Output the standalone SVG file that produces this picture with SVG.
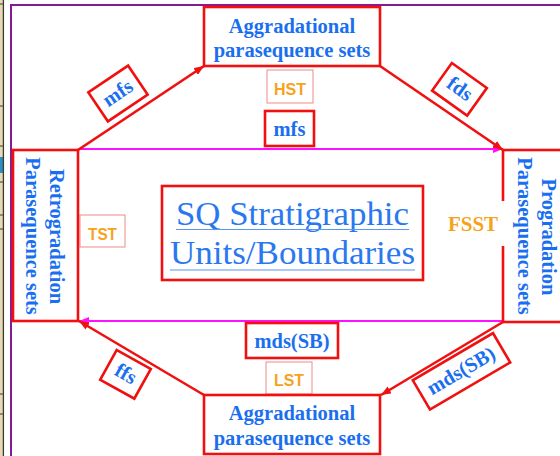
<svg xmlns="http://www.w3.org/2000/svg" width="560" height="456" viewBox="0 0 560 456">
  <defs>
    <marker id="headRed" viewBox="0 0 10 8" markerWidth="10" markerHeight="8" refX="10" refY="4" orient="auto" markerUnits="userSpaceOnUse">
      <path d="M0,0 L10,4 L0,8 z" fill="#f01010"/>
    </marker>
    <marker id="headPink" viewBox="0 0 10 8" markerWidth="10" markerHeight="8" refX="10" refY="4" orient="auto" markerUnits="userSpaceOnUse">
      <path d="M0,0 L10,4 L0,8 z" fill="#ff10ff"/>
    </marker>
    <style>
      .box { fill: #ffffff; stroke: #f01010; stroke-width: 2.6; }
      .thin { fill: #ffffff; stroke: #f08a8a; stroke-width: 1; }
      .b { font-family: "Liberation Serif", "Times New Roman", serif; font-weight: bold; font-size: 20.5px; fill: #1a6ff0; text-anchor: middle; }
      .o { font-family: "Liberation Sans", Arial, sans-serif; font-weight: bold; font-size: 17px; fill: #f7a21b; text-anchor: middle; }
      .ob { font-family: "Liberation Serif", "Times New Roman", serif; font-weight: bold; font-size: 21px; fill: #f7a21b; text-anchor: middle; }
      .big { font-family: "Liberation Serif", "Times New Roman", serif; font-size: 33px; fill: #2a78f0; text-anchor: middle; }
      .red { fill: none; stroke: #f01010; stroke-width: 2.6; }
      .pink { fill: none; stroke: #ff10ff; stroke-width: 2; }
    </style>
  </defs>

  <rect x="0" y="0" width="560" height="456" fill="#ffffff"/>

  <!-- window edge strip on the left -->
  <g id="edge-strip">
    <rect x="0" y="0" width="3" height="456" fill="#e6dab6"/>
    <rect x="0" y="157" width="3" height="16" fill="#2a8fc4"/>
    <line x1="3.4" y1="0" x2="3.4" y2="456" stroke="#3c3a30" stroke-width="1.3"/>
    <g stroke="#3c3a30" stroke-width="1">
      <line x1="0" y1="4" x2="3" y2="4"/>
      <line x1="0" y1="106" x2="3" y2="106"/>
      <line x1="0" y1="146" x2="3" y2="146"/>
      <line x1="0" y1="182" x2="3" y2="182"/>
      <line x1="0" y1="215" x2="3" y2="215"/>
      <line x1="0" y1="229" x2="3" y2="229"/>
      <line x1="0" y1="394" x2="3" y2="394"/>
      <line x1="0" y1="414" x2="3" y2="414"/>
    </g>
  </g>

  <!-- purple frame -->
  <path d="M11,456 L11,5 L560,5" fill="none" stroke="#861a96" stroke-width="2"/>

  <!-- connectors -->
  <g id="connectors">
    <line class="pink" x1="78" y1="149" x2="503" y2="149" marker-end="url(#headPink)"/>
    <line class="pink" x1="503" y1="321" x2="79" y2="321" marker-end="url(#headPink)"/>
    <line class="red" x1="78" y1="150" x2="204" y2="66" marker-end="url(#headRed)"/>
    <line class="red" x1="380" y1="66" x2="503" y2="150" marker-end="url(#headRed)"/>
    <line class="red" x1="503" y1="322" x2="381" y2="395" marker-end="url(#headRed)"/>
    <line class="red" x1="204" y1="395" x2="79" y2="321" marker-end="url(#headRed)"/>
  </g>

  <!-- connector labels -->
  <g id="label-mfs-diag" transform="translate(118,93.5) rotate(-34)">
    <rect class="box" x="-24" y="-17.5" width="48" height="35"/>
    <text class="b" x="0" y="6">mfs</text>
  </g>
  <g id="label-fds" transform="translate(459.5,89.3) rotate(35.5)">
    <rect class="box" x="-21.5" y="-17" width="43" height="34"/>
    <text class="b" x="0" y="6">fds</text>
  </g>
  <g id="label-ffs" transform="translate(125.5,374.3) rotate(29)">
    <rect class="box" x="-19.5" y="-17" width="39" height="34"/>
    <text class="b" x="0" y="6">ffs</text>
  </g>
  <g id="label-mds-diag" transform="translate(461.5,371.3) rotate(-30.4)">
    <rect class="box" x="-46.5" y="-17" width="93" height="34"/>
    <text class="b" x="0" y="6">mds(SB)</text>
  </g>

  <g id="label-hst">
    <rect class="thin" x="267" y="70" width="46" height="33"/>
    <text class="o" x="290" y="95" textLength="32" lengthAdjust="spacingAndGlyphs">HST</text>
  </g>
  <g id="label-mfs">
    <rect class="box" x="265" y="111" width="49" height="35"/>
    <text class="b" x="289.5" y="136">mfs</text>
  </g>
  <g id="label-mds">
    <rect class="box" x="246" y="323" width="92" height="35"/>
    <text class="b" x="292" y="348">mds(SB)</text>
  </g>
  <g id="label-lst">
    <rect class="thin" x="266" y="362" width="46" height="32"/>
    <text class="o" x="289" y="386" textLength="30" lengthAdjust="spacingAndGlyphs">LST</text>
  </g>
  <g id="label-tst">
    <rect class="thin" x="80" y="215" width="45" height="32"/>
    <text class="o" x="102.5" y="240" textLength="29" lengthAdjust="spacingAndGlyphs">TST</text>
  </g>

  <!-- nodes -->
  <g id="node-top">
    <rect class="box" x="204" y="7" width="176" height="59"/>
    <text class="b" x="292" y="32.5">Aggradational</text>
    <text class="b" x="292" y="56.5">parasequence sets</text>
  </g>
  <g id="node-bottom">
    <rect class="box" x="204" y="395" width="176" height="59"/>
    <text class="b" x="292" y="420">Aggradational</text>
    <text class="b" x="292" y="444.5">parasequence sets</text>
  </g>
  <g id="node-left">
    <rect class="box" x="13" y="150" width="65" height="171"/>
    <text class="b" transform="translate(49.5,236.5) rotate(90)">Retrogradation</text>
    <text class="b" transform="translate(25.5,236) rotate(90)">Parasequence sets</text>
  </g>
  <g id="node-right">
    <rect class="box" x="503" y="150" width="66" height="172"/>
    <text class="b" transform="translate(541.5,237) rotate(90)">Progradation</text>
    <text class="b" transform="translate(517.5,236) rotate(90)">Parasequence sets</text>
  </g>
  <g id="label-fsst">
    <rect x="446" y="201" width="59" height="45" fill="#ffffff"/>
    <text class="ob" x="473" y="231">FSST</text>
  </g>
  <g id="node-center">
    <rect class="box" x="162" y="186" width="261" height="94"/>
    <text class="big" x="292.5" y="225" textLength="233" lengthAdjust="spacingAndGlyphs">SQ Stratigraphic</text>
    <text class="big" x="292.5" y="264" textLength="245" lengthAdjust="spacingAndGlyphs">Units/Boundaries</text>
    <line x1="176" y1="229.5" x2="409" y2="229.5" stroke="#5a95f0" stroke-width="1.2"/>
    <line x1="170" y1="270" x2="415" y2="270" stroke="#5a95f0" stroke-width="1.2"/>
  </g>
</svg>
